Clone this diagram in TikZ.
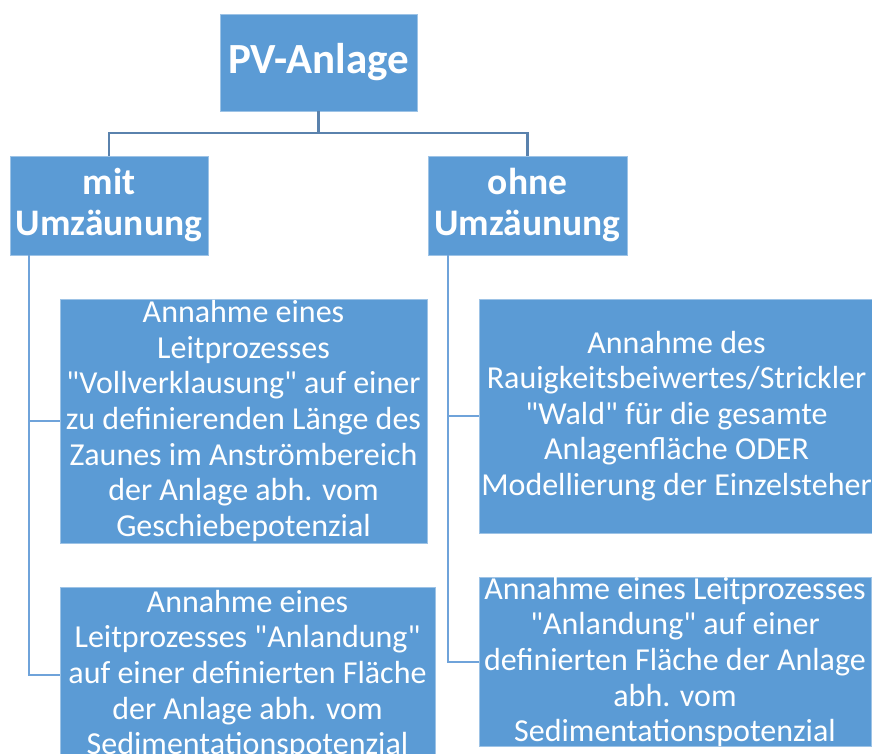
\documentclass[tikz,border=0pt]{standalone}
\usepackage{fontspec}
\setmainfont{Carlito}[Ligatures=TeXOff]
\definecolor{boxblue}{HTML}{5B9BD5}
\definecolor{boxedge}{HTML}{9DC3E6}
\definecolor{topline}{HTML}{5A82AD}
\definecolor{subline}{HTML}{6FA3DA}
\begin{document}
\begin{tikzpicture}[x=1pt,y=-1pt,
  box/.style={rectangle,fill=boxblue,draw=boxedge,line width=0.8pt,inner sep=0pt,text=white,align=center},
  headbox/.style={box,font=\bfseries\fontsize{37.5}{41}\selectfont},
  leafbox/.style={box,font=\fontsize{32}{35.6}\selectfont},
  conntop/.style={draw=topline,line width=2.2pt},
  connsub/.style={draw=subline,line width=2pt}]
\useasboundingbox (0,0) rectangle (872,754);
\begin{scope}
\clip (0,0) rectangle (872,754);
\node[box,font=\bfseries\fontsize{43}{48}\selectfont,minimum width=197pt,minimum height=97pt] (top) at (318.5,62.5) {PV-Anlage};
\node[headbox,minimum width=198pt,minimum height=99pt] (mit) at (109,205.5) {mit\\Umzäunung};
\node[headbox,minimum width=199pt,minimum height=99pt] (ohne) at (527.5,205.5) {ohne\\Umzäunung};
\node[leafbox,minimum width=367pt,minimum height=244pt] (b1) at (243.5,421)
  {Annahme eines\\Leitprozesses\\"Vollverklausung" auf einer\\zu definierenden Länge des\\Zaunes im Anströmbereich\\der Anlage abh. vom\\Geschiebepotenzial};
\node[leafbox,minimum width=375pt,minimum height=176pt] (b2) at (247.5,675)
  {Annahme eines\\Leitprozesses "Anlandung"\\auf einer definierten Fläche\\der Anlage abh. vom\\Sedimentationspotenzial};
\node[leafbox,minimum width=395pt,minimum height=234pt] (b3) at (676.5,416)
  {Annahme des\\Rauigkeitsbeiwertes/Strickler\\"Wald" für die gesamte\\Anlagenfläche ODER\\Modellierung der Einzelsteher};
\node[leafbox,minimum width=392pt,minimum height=168pt] (b4) at (675,662)
  {Annahme eines Leitprozesses\\"Anlandung" auf einer\\definierten Fläche der Anlage\\abh. vom\\Sedimentationspotenzial};
\end{scope}
% top connectors
\draw[conntop] (top.south) -- ++(0,22) coordinate (j);
\draw[conntop] (mit.north) |- (j) -| (ohne.north);
% left branch
\coordinate (ml) at ([xshift=19pt]mit.south west);
\draw[connsub] (ml) |- (b1.west);
\draw[connsub] (ml) |- (b2.west);
% right branch
\coordinate (or) at ([xshift=20pt]ohne.south west);
\draw[connsub] (or) |- (b3.west);
\draw[connsub] (or) |- (b4.west);
\end{tikzpicture}
\end{document}
